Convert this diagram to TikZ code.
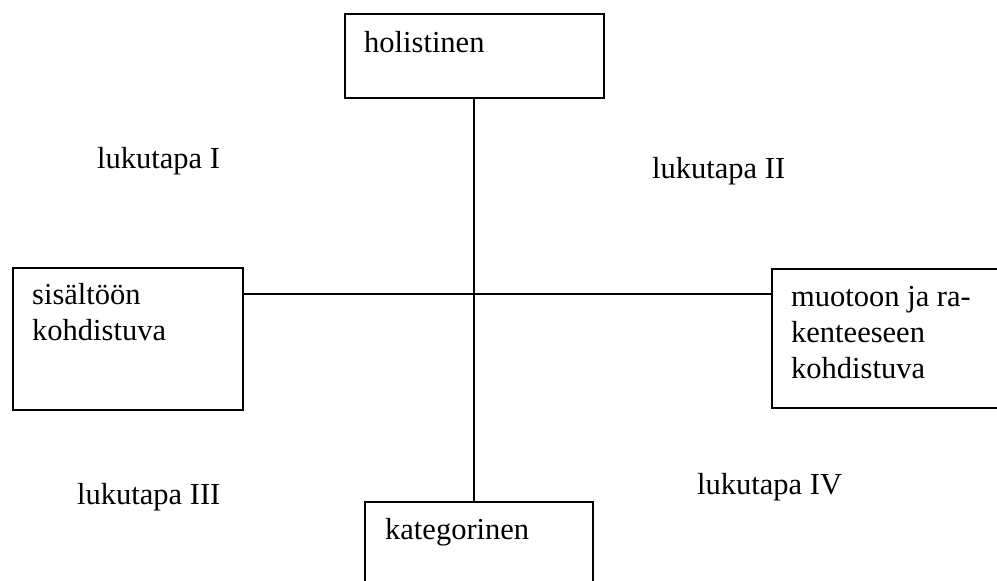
\documentclass[tikz,border=0pt]{standalone}
\usepackage{fontspec}
\setmainfont{Liberation Serif}
\begin{document}
\begin{tikzpicture}[x=1pt,y=-1pt,
  box/.style={draw,line width=1.6pt,inner sep=0pt,anchor=north west},
  lbl/.style={inner sep=0pt,anchor=base west,align=left,font=\fontsize{30.5}{36}\selectfont},
  conn/.style={line width=1.6pt}]
\useasboundingbox (0,0) rectangle (997,581);
\clip (0,0) rectangle (997,581);
\node[box,minimum width=259pt,minimum height=84pt] (hol) at (344,13) {};
\node[box,minimum width=230pt,minimum height=142pt] (sis) at (12,267) {};
\node[box,minimum width=240pt,minimum height=139pt] (muo) at (771,268) {};
\node[box,minimum width=228pt,minimum height=100pt] (kat) at (364,501) {};
\coordinate (c) at (474,294);
\draw[conn] (c |- hol.south) -- (c |- kat.north);
\draw[conn] (c -| sis.east) -- (c -| muo.west);
\node[lbl] (tHol) at (364,52) {holistinen};
\node[lbl] (tSis) at (32,340) {sisältöön\\kohdistuva};
\node[lbl] (tMuo) at (791,378) {muotoon ja ra-\\kenteeseen\\kohdistuva};
\node[lbl] (tKat) at (385,539) {kategorinen};
\node[lbl] (l1) at (97,168) {lukutapa I};
\node[lbl] (l2) at (652,178) {lukutapa II};
\node[lbl] (l3) at (77,504) {lukutapa III};
\node[lbl] (l4) at (697,494) {lukutapa IV};
\end{tikzpicture}
\end{document}
